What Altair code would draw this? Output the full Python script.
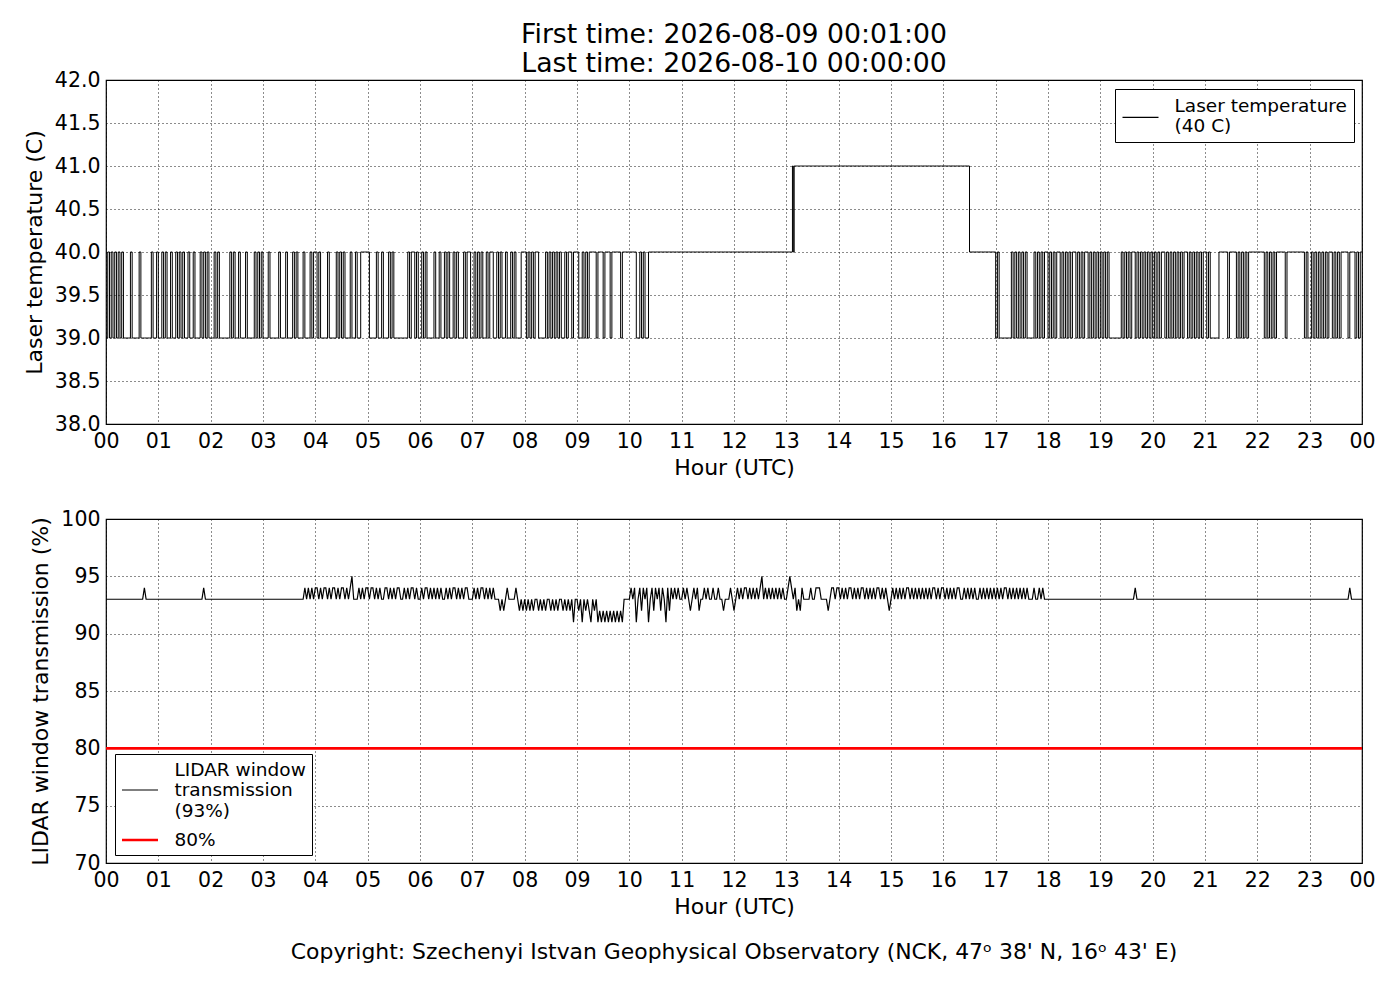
import altair as alt
import pandas as pd

# ---------------- data ----------------
# Laser temperature: one string per hour (00..23); each character is one equal time bin
# '0' = 39 C, '1' = 40 C, '2' = 41 C
temp_codes = [
    "010101010100001000010000001001",
    "001010010010101001001000101010",
    "001010000001010010001000010101",
    "000100000100010001010001000101",
    "101000010000101010001001001111",
    "100001001000101000000001011010",
    "010100001001001010010100010110",
    "010101001011001010010010100011",
    "101010110000101010101001011011",
    "100101011110111011101111101111",
    "1111" + "00101001" + "111111111111111111",
    "111111111111111111111111111111",
    "111111111111111111111111111111",
    "1111111" + "2" + "1" + "222222222222222222222222222222222222222222222222222",
    "222222222222222222222222222222",
    "222222222222222222222222222222",
    "222222222222222" + "111111111111111",
    "010000000101010101000010101011",
    "010101101010101101010110101010",
    "101010000000101010110101010101",
    "010101101010101010110101010101",
    "101" + "00000" + "1111101111" + "0101010" + "11111",
    "1111" + "0101010" + "1111101111111111" + "010",
    "010101010101101010" + "11110111" + "0101",
]
temp_offset = 39.0

# LIDAR window transmission: one string per hour; each character = value - 90 (%)
trans_codes = [
    "3333333333333333333333" + "4" + "3333333",
    "33333333333333333333333333" + "4" + "333",
    "333333333333333333333333333333",
    "333333333333333333333333" + "434343",
    "443434434344343443434" + "5" + "33343434",
    "434434343344343434433434344343",
    "343443434343433434344343434433",
    "34343443434343" + "3323234333343232",
    "323232332323233232323323232313",
    "323132321323121212121212121333",
    "343413424341342434243142434343",
    "343432343423343433433433233343",
    "234343443434343453434343434343",
    "345434232433334334443333234434",
    "434343443434344343434344343432",
    "343434343443434343434343443434",
    "434343434433434343433434343434",
    "343434434343434343433343343433",
    "333333333333333333333333333333",
    "33333333333333333333" + "4" + "333333333",
    "333333333333333333333333333333",
    "333333333333333333333333333333",
    "333333333333333333333333333333",
    "33333333333333333333333" + "4" + "333333",
]
trans_offset = 90
threshold = 80

x_ticks = list(range(0, 25))
temp_ticks = [38.0, 38.5, 39.0, 39.5, 40.0, 40.5, 41.0, 41.5, 42.0]
trans_ticks = [70, 75, 80, 85, 90, 95, 100]

temp_label = "Laser temperature\n(40 C)"
lidar_label = "LIDAR window\ntransmission\n(93%)"
thr_label = "80%"
title_lines = ["First time: 2026-08-09 00:01:00", "Last time: 2026-08-10 00:00:00"]
copyright_text = "Copyright: Szechenyi Istvan Geophysical Observatory (NCK, 47ᵒ  38' N, 16ᵒ  43' E)"

# ---------------- build tables ----------------
rows = []
for h, s in enumerate(temp_codes):
    n = len(s)
    for i, ch in enumerate(s):
        rows.append({"hour": h + i / n, "temp": temp_offset + int(ch), "tseries": temp_label})
rows.append({"hour": 24.0, "temp": temp_offset + int(temp_codes[-1][-1]), "tseries": temp_label})
temp_df = pd.DataFrame(rows)

rows = []
for h, s in enumerate(trans_codes):
    n = len(s)
    for i, ch in enumerate(s):
        rows.append({"hour": h + i / n, "trans": trans_offset + int(ch), "bseries": lidar_label})
rows.append({"hour": 24.0, "trans": trans_offset + int(trans_codes[-1][-1]), "bseries": lidar_label})
trans_df = pd.DataFrame(rows)
thr_df = pd.DataFrame({"trans": [threshold], "bseries": [thr_label]})

FONT = "DejaVu Sans"
label_expr_x = "(datum.value % 24 < 10 ? '0' : '') + (datum.value % 24)"


def x_enc():
    return alt.X(
        "hour:Q",
        scale=alt.Scale(domain=[0, 24], nice=False, zero=False),
        axis=alt.Axis(values=x_ticks, labelExpr=label_expr_x, title="Hour (UTC)",
                      labelFlush=False, labelOverlap=False, labelPadding=7, titlePadding=6),
    )


legend_common = dict(
    strokeColor="black", fillColor="white", symbolSize=324, symbolOffset=9,
    labelFontSize=18.5, labelFont=FONT, labelColor="black", labelLimit=0,
    labelOffset=24, title=None, labelExpr="split(datum.label, '\\n')", cornerRadius=0,
    offset=8.5,
)

top = alt.Chart(temp_df).mark_line(interpolate="step-after", strokeWidth=1, clip=True).encode(
    x=x_enc(),
    y=alt.Y("temp:Q", scale=alt.Scale(domain=[38, 42], nice=False, zero=False),
            axis=alt.Axis(values=temp_ticks, format=".1f", title="Laser temperature (C)",
                          labelFlush=False, labelOverlap=False, labelPadding=6, titlePadding=8)),
    color=alt.Color("tseries:N", scale=alt.Scale(domain=[temp_label], range=["black"]),
                    legend=alt.Legend(orient="top-right", symbolStrokeWidth=1.2,
                                      symbolType="M-2,1.33H2", padding=6.5, **legend_common)),
).properties(
    width=1256, height=344,
    title=alt.TitleParams(title_lines, fontSize=26.7, font=FONT, fontWeight="normal",
                          lineHeight=29, anchor="middle", color="black", offset=-8),
)

color_scale = alt.Scale(domain=[lidar_label, thr_label], range=["black", "red"])
width_scale = alt.Scale(domain=[lidar_label, thr_label], range=[1.2, 2.6])
bottom_symbol = {"expr": "datum.value == '80%' ? 'M-2,0H2' : 'M-2,2.28H2'"}
bottom_legend = alt.Legend(orient="bottom-left", symbolType=bottom_symbol, padding=5.5,
                           rowPadding=9, **legend_common)

trans_line = alt.Chart(trans_df).mark_line(clip=True).encode(
    x=x_enc(),
    y=alt.Y("trans:Q", scale=alt.Scale(domain=[70, 100], nice=False, zero=False),
            axis=alt.Axis(values=trans_ticks, title="LIDAR window transmission (%)",
                          labelFlush=False, labelOverlap=False, labelPadding=6, titlePadding=8)),
    color=alt.Color("bseries:N", scale=color_scale, legend=bottom_legend),
    strokeWidth=alt.StrokeWidth("bseries:N", scale=width_scale, legend=bottom_legend),
)
thr_rule = alt.Chart(thr_df).mark_rule().encode(
    y="trans:Q",
    color=alt.Color("bseries:N", scale=color_scale, legend=bottom_legend),
    strokeWidth=alt.StrokeWidth("bseries:N", scale=width_scale, legend=bottom_legend),
)

bottom = alt.layer(thr_rule, trans_line).properties(
    width=1256, height=344,
    title=alt.TitleParams(copyright_text, orient="bottom", fontSize=21.9, font=FONT,
                          fontWeight="normal", anchor="middle", color="black", offset=24),
)

chart = alt.vconcat(top, bottom, spacing=28).resolve_scale(
    color="independent", strokeWidth="independent"
).resolve_legend(
    color="independent", strokeWidth="independent"
).properties(
    padding={"left": 14, "top": 13, "right": 10, "bottom": 10},
    background="white",
).configure_axis(
    labelFont=FONT, titleFont=FONT, labelFontSize=20.5, titleFontSize=22,
    titleFontWeight="normal", labelColor="black", titleColor="black",
    grid=True, gridColor="black", gridDash=[1, 3], gridWidth=1, gridOpacity=0.9,
    ticks=False, domain=False,
).configure_view(
    stroke="black", strokeWidth=1.2,
)

chart.save("out.html", embed_options={"renderer": "svg", "actions": False})
